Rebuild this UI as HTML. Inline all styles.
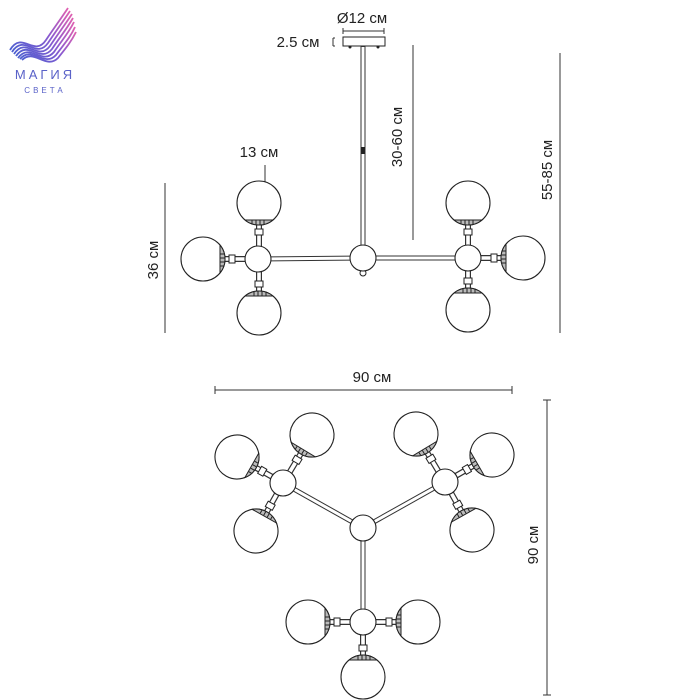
<!DOCTYPE html>
<html><head><meta charset="utf-8"><style>
html,body{margin:0;padding:0;background:#fff;}
svg{display:block;}
text{font-family:"Liberation Sans",sans-serif;fill:#222;}
</style></head><body>
<svg width="700" height="700" viewBox="0 0 700 700" xmlns="http://www.w3.org/2000/svg">
<defs>
<linearGradient id="lg" x1="0" y1="1" x2="1" y2="0">
<stop offset="0" stop-color="#4a5fd0"/><stop offset="0.5" stop-color="#8a5ad0"/><stop offset="1" stop-color="#e060b0"/>
</linearGradient>
<g id="globe">
<line x1="0" y1="20" x2="0" y2="44" stroke="#333" stroke-width="6"/>
<line x1="0" y1="20" x2="0" y2="44" stroke="#fff" stroke-width="3.6"/>
<rect x="-4" y="26" width="8" height="6" fill="#fff" stroke="#222" stroke-width="1"/>
<circle r="22" fill="#fff" stroke="#222" stroke-width="1.1"/>
<path d="M-14,17 A22,22 0 0 0 14,17 Z" fill="#bbb" stroke="#222" stroke-width="1"/>
<path d="M-7,17.5 v3 M-3,17.5 v4 M1,17.5 v4 M5,17.5 v3.5" stroke="#222" stroke-width="1"/>
</g>
</defs>

<!-- logo -->
<g fill="none" stroke="url(#lg)" stroke-width="1.8">
<path d="M10,50 C22,30 34,58 46,40 C54,28 60,20 68,8"/>
<path d="M12,52 C24,33 36,60 48,43 C56,31 62,23 70,11"/>
<path d="M14,54 C26,36 38,62 50,46 C58,34 64,26 72,14"/>
<path d="M16,56 C28,39 40,64 52,49 C60,37 66,30 73,18"/>
<path d="M18,58 C30,42 42,66 54,52 C62,40 68,34 74,22"/>
<path d="M20,59 C32,45 44,68 56,55 C64,44 70,38 75,27"/>
<path d="M22,60 C34,48 46,70 58,58 C66,48 71,42 76,32"/>
</g>
<text x="45" y="79" font-size="13" text-anchor="middle" letter-spacing="3" style="fill:#5a62c8">МАГИЯ</text>
<text x="45" y="93" font-size="8" text-anchor="middle" letter-spacing="3" style="fill:#5a62c8">СВЕТА</text>

<!-- side view dimensions -->
<text x="362" y="23" font-size="15" text-anchor="middle">Ø12 см</text>
<path d="M343,31 H384 M343,28 v6 M384,28 v6" stroke="#333" stroke-width="1"/>
<text x="298" y="47" font-size="15" text-anchor="middle">2.5 см</text>
<path d="M333,38 v8 M333,38 h2 M333,46 h2" stroke="#333" stroke-width="1"/>
<rect x="343" y="37" width="42" height="9" fill="#fff" stroke="#222"/>
<circle cx="350" cy="47" r="1.5" fill="#222"/><circle cx="378" cy="47" r="1.5" fill="#222"/>
<line x1="413" y1="45" x2="413" y2="240" stroke="#333"/>
<text transform="translate(402,137) rotate(-90)" font-size="15" text-anchor="middle">30-60 см</text>
<line x1="560" y1="53" x2="560" y2="333" stroke="#333"/>
<text transform="translate(552,170) rotate(-90)" font-size="15" text-anchor="middle">55-85 см</text>
<line x1="165" y1="183" x2="165" y2="333" stroke="#333"/>
<text transform="translate(158,260) rotate(-90)" font-size="15" text-anchor="middle">36 см</text>
<text x="259" y="157" font-size="15" text-anchor="middle">13 см</text>
<line x1="265" y1="165" x2="265" y2="182" stroke="#333"/>

<!-- side view arms -->
<g stroke="#333" stroke-width="5" fill="none">
<line x1="363" y1="46" x2="363" y2="250"/>
<line x1="258" y1="259" x2="363" y2="258"/>
<line x1="363" y1="258" x2="468" y2="258"/>
</g>
<g stroke="#fff" stroke-width="3" fill="none">
<line x1="363" y1="47" x2="363" y2="250"/>
<line x1="258" y1="259" x2="363" y2="258"/>
<line x1="363" y1="258" x2="468" y2="258"/>
</g>
<rect x="361" y="147" width="4" height="7" fill="#222"/>
<use href="#globe" transform="translate(259,203)"/>
<use href="#globe" transform="translate(203,259) rotate(-90)"/>
<use href="#globe" transform="translate(259,313) rotate(180)"/>
<use href="#globe" transform="translate(468,203)"/>
<use href="#globe" transform="translate(523,258) rotate(90)"/>
<use href="#globe" transform="translate(468,310) rotate(180)"/>
<circle cx="363" cy="273" r="3" fill="#fff" stroke="#222"/>
<g fill="#fff" stroke="#222" stroke-width="1.1">
<circle cx="258" cy="259" r="13"/>
<circle cx="363" cy="258" r="13"/>
<circle cx="468" cy="258" r="13"/>
</g>

<!-- top view dimensions -->
<path d="M215,390 H512 M215,386 v8 M512,386 v8" stroke="#333"/>
<text x="372" y="382" font-size="15" text-anchor="middle">90 см</text>
<path d="M547,400 V695 M543,400 h8 M543,695 h8" stroke="#333"/>
<text transform="translate(538,545) rotate(-90)" font-size="15" text-anchor="middle">90 см</text>

<!-- top view arms -->
<g stroke="#333" stroke-width="5">
<line x1="363" y1="528" x2="283" y2="483"/>
<line x1="363" y1="528" x2="445" y2="482"/>
<line x1="363" y1="528" x2="363" y2="622"/>
</g>
<g stroke="#fff" stroke-width="3">
<line x1="363" y1="528" x2="283" y2="483"/>
<line x1="363" y1="528" x2="445" y2="482"/>
<line x1="363" y1="528" x2="363" y2="622"/>
</g>
<use href="#globe" transform="translate(237,457) rotate(-60.5)"/>
<use href="#globe" transform="translate(312,435) rotate(31)"/>
<use href="#globe" transform="translate(256,531) rotate(-150.6)"/>
<use href="#globe" transform="translate(416,434) rotate(-31)"/>
<use href="#globe" transform="translate(492,455) rotate(60)"/>
<use href="#globe" transform="translate(472,530) rotate(150.6)"/>
<use href="#globe" transform="translate(308,622) rotate(-90)"/>
<use href="#globe" transform="translate(418,622) rotate(90)"/>
<use href="#globe" transform="translate(363,677) rotate(180)"/>
<g fill="#fff" stroke="#222" stroke-width="1.1">
<circle cx="363" cy="528" r="13"/>
<circle cx="283" cy="483" r="13"/>
<circle cx="445" cy="482" r="13"/>
<circle cx="363" cy="622" r="13"/>
</g>
</svg>
</body></html>
